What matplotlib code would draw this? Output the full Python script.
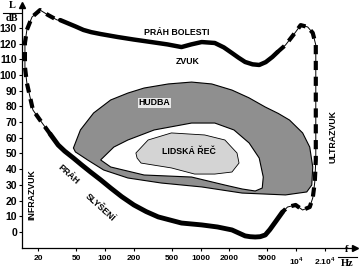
import matplotlib
matplotlib.use('Agg')
import matplotlib.pyplot as plt
from matplotlib.lines import Line2D

plt.rcParams['font.family'] = ['Liberation Sans', 'DejaVu Sans']
plt.rcParams['mathtext.fontset'] = 'custom'
plt.rcParams['mathtext.rm'] = 'Liberation Sans:bold'
plt.rcParams['mathtext.bf'] = 'Liberation Sans:bold'

# --- donnees (f en Hz, L en dB) ---
prah_bolesti_f = [34.1, 40.5, 49, 59.7, 72, 90.3, 136, 200, 305, 450, 632, 800, 1028, 1409, 1750, 2130, 2500, 2924, 3500, 4104, 4800, 5633, 6368]
prah_bolesti_L = [135, 133.1, 131, 128.7, 127.3, 126.1, 124.2, 122.6, 121, 119.5, 117.8, 119.5, 121, 120.4, 117.6, 114, 111, 108.3, 106.8, 106.4, 108.2, 111.5, 114.6]

ultrazvuk_f = [6368, 7727, 9862, 11130, 13180, 14890, 16020, 16020, 16020, 15630, 14890, 13840, 11670, 9862, 8110, 7183]
ultrazvuk_L = [114.6, 119.1, 127.4, 131.8, 130.6, 126.8, 119.1, 84.1, 45.9, 31.8, 21.7, 15.9, 14, 17.2, 15.9, 12.7]

prah_slyseni_f = [7183, 6058, 5300, 4749, 4200, 3727, 3300, 2924, 2130, 1500, 1028, 632, 361, 270, 201, 150, 115, 90, 70.8, 57, 46.9, 38, 32.5, 26.8]
prah_slyseni_L = [12.7, 6.4, 1.5, -1.9, -3, -3.2, -3.0, -2.5, 1.3, 3.2, 4.5, 5.7, 9.6, 13, 17.2, 22.5, 28, 33.3, 38.2, 42.8, 47.1, 51.5, 55.4, 62.4]

infrazvuk_f = [26.8, 21, 17.7, 16.5, 15.3, 14.6, 14.6, 15.3, 17.3, 21, 25.5, 31.8, 34.1]
infrazvuk_L = [62.4, 71.3, 77.7, 86, 94.9, 105.1, 120.4, 128.7, 136.9, 141.4, 138.2, 135, 135]

hudba_f = [46.9, 55.5, 76.2, 115, 174, 257, 460, 806, 1309, 2130, 3200, 4749, 6500, 8510, 11670, 13840,
           14890, 14540, 12880, 7727, 2716, 1028, 388, 174, 97, 65.9, 49.2]
hudba_L = [53.5, 65, 75.8, 84.1, 88.5, 91.7, 94.3, 95.5, 94.3, 90.4, 85.5, 79.6, 75.5, 71.3, 63.1, 54.1,
           41.4, 29.9, 25.5, 23.6, 24.8, 28.7, 31.2, 34.4, 39.5, 45.9, 51]

# zone blanche entre musique et parole
mezera_f = [90.3, 124, 174, 328, 806, 1409, 2234, 3220, 4104, 4525, 4413, 3727, 2716, 1797, 806, 257, 115]
mezera_L = [45.9, 54.1, 58.6, 65, 69.4, 69.4, 65, 56.7, 47.1, 35, 28, 26.1, 27.4, 29.9, 35, 36.3, 41.4]

rec_f = [211, 283, 496, 1105, 1797, 2405, 2524, 2130, 1409, 867, 496, 239, 217]
rec_L = [50.3, 58.6, 63.1, 61.8, 58.6, 50.3, 43.9, 38.2, 36.9, 36.9, 40.8, 43.9, 47.1]

x_ticks = [20, 50, 100, 200, 500, 1000, 2000, 5000, 10000, 20000]
x_labels = ['20', '50', '100', '200', '500', '1000', '2000', '5000', '10$^4$', '2.10$^4$']
y_ticks = list(range(0, 131, 10))

# --- figure ---
fig = plt.figure(figsize=(3.64, 2.70), dpi=100)
ax = fig.add_axes([0.0604, 0.0815, 0.915, 0.90])
ax.set_xscale('log')
ax.set_xlim(13.6, 41200)
ax.set_ylim(-10.2, 144.6)

# zones
ax.fill(hudba_f, hudba_L, facecolor='#8f8f8f', edgecolor='black', lw=0.8, zorder=1)
ax.fill(mezera_f, mezera_L, facecolor='white', edgecolor='black', lw=0.8, zorder=2)
ax.fill(rec_f, rec_L, facecolor='#d4d4d4', edgecolor='black', lw=0.6, zorder=3)

# seuils (traits pleins epais)
ax.plot(prah_bolesti_f, prah_bolesti_L, color='black', lw=3.2, solid_capstyle='round',
        solid_joinstyle='round', zorder=5)
ax.plot(prah_slyseni_f, prah_slyseni_L, color='black', lw=3.5, solid_capstyle='round',
        solid_joinstyle='round', zorder=5)

# limites infra / ultra (tirets epais + trait fin)
for fx, ly in [(ultrazvuk_f, ultrazvuk_L), (infrazvuk_f, infrazvuk_L)]:
    ax.plot(fx, ly, color='black', lw=0.7, zorder=5)
    ax.plot(fx, ly, color='black', lw=3.0, ls=(0, (2.2, 1.6)), zorder=5)

# axes
for s in ['top', 'right']:
    ax.spines[s].set_visible(False)
for s in ['left', 'bottom']:
    ax.spines[s].set_linewidth(0.9)
ax.plot(1, 0, '>k', ms=5, transform=ax.transAxes, clip_on=False)
ax.plot(0, 1, '^k', ms=4, transform=ax.transAxes, clip_on=False)

ax.set_xticks(x_ticks)
ax.set_xticklabels(x_labels)
ax.minorticks_off()
ax.set_yticks(y_ticks)
ax.tick_params(axis='x', length=2.5, width=0.8, pad=2.5, labelsize=6)
ax.tick_params(axis='y', length=2.5, width=0.8, pad=1, labelsize=7.5)
for t in ax.get_xticklabels() + ax.get_yticklabels():
    t.set_fontweight('bold')

# textes
txt = dict(fontweight='bold', color='black', zorder=6)
ax.text(560, 126.8, 'PRÁH BOLESTI', fontsize=6.3, ha='center', va='center', **txt)
ax.text(731, 108.3, 'ZVUK', fontsize=6.3, ha='center', va='center', **txt)
ax.text(328, 82.2, 'HUDBA', fontsize=6.3, ha='center', va='center',
        bbox=dict(facecolor='#e8e8e8', edgecolor='none', pad=0.3), **txt)
ax.text(749, 51, 'LIDSKÁ ŘEČ', fontsize=6.3, ha='center', va='center', **txt)
ax.text(17.3, 23.6, 'INFRAZVUK', fontsize=6.3, ha='center', va='center', rotation=90, **txt)
ax.text(24200, 61.1, 'ULTRAZVUK', fontsize=6.3, ha='center', va='center', rotation=90, **txt)
ax.text(41.5, 36.3, 'PRÁH', fontsize=6.3, ha='center', va='center', rotation=-42, **txt)
ax.text(90.3, 15.9, 'SLYŠENÍ', fontsize=6.3, ha='center', va='center', rotation=-42, **txt)

# unites des axes (fractions)
ser = dict(family='Liberation Serif', fontweight='bold', fontsize=7.5, ha='center', va='center')
fig.text(12 / 364, 1 - 6 / 270, 'L', **ser)
fig.text(12 / 364, 1 - 18.5 / 270, 'dB', **ser)
fig.add_artist(Line2D([3 / 364, 21 / 364], [1 - 12.5 / 270, 1 - 12.5 / 270], color='black', lw=0.8))
fig.text(347 / 364, 1 - 250 / 270, 'f', **ser)
fig.text(347 / 364, 1 - 263.5 / 270, 'Hz', **ser)
fig.add_artist(Line2D([338 / 364, 357 / 364], [1 - 257 / 270, 1 - 257 / 270], color='black', lw=0.8))

fig.savefig('out.png', dpi=100)
